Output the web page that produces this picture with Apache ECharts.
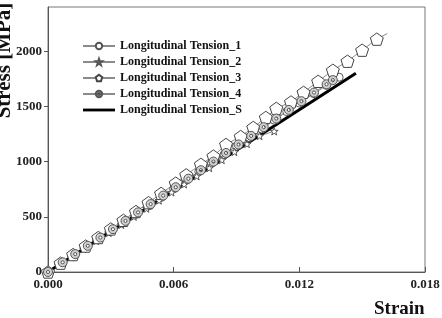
<!DOCTYPE html>
<html>
<head>
<meta charset="utf-8">
<script src="https://cdn.jsdelivr.net/npm/echarts@6/dist/echarts.min.js"></script>
<style>
  html, body { margin: 0; padding: 0; background: #fff; }
  #chart { width: 442px; height: 318px; }
</style>
</head>
<body>
<div id="chart"></div>
<script>
var seriesNames = ['Longitudinal Tension_1', 'Longitudinal Tension_2', 'Longitudinal Tension_3', 'Longitudinal Tension_4', 'Longitudinal Tension_S'];
var xTicks = [0, 0.006, 0.012, 0.018];
var yTicks = [0, 500, 1000, 1500, 2000];

var strain1 = [0, 0.0006, 0.0012, 0.0018, 0.0024, 0.0030, 0.0036, 0.0042, 0.0048, 0.0054, 0.0060, 0.0066, 0.0072, 0.0078, 0.0084, 0.0090, 0.0096, 0.0102, 0.0108, 0.0114, 0.0120, 0.0127, 0.0133, 0.0139];
var stress1 = [0, 75, 150, 224, 298, 372, 447, 522, 598, 675, 752, 830, 908, 985, 1062, 1140, 1218, 1296, 1375, 1452, 1530, 1615, 1690, 1764];

var strain2 = [0, 0.0005, 0.0011, 0.0017, 0.0023, 0.0029, 0.0035, 0.0041, 0.0047, 0.0053, 0.0059, 0.0065, 0.0071, 0.0077, 0.0083, 0.0089, 0.0095, 0.0101, 0.0108];
var stress2 = [0, 62, 135, 208, 282, 355, 428, 502, 575, 648, 722, 795, 868, 942, 1015, 1088, 1160, 1232, 1275];

var strain3 = [0, 0.0006, 0.0012, 0.0018, 0.0024, 0.0030, 0.0036, 0.0042, 0.0048, 0.0054, 0.0061, 0.0066, 0.0073, 0.0079, 0.0085, 0.0092, 0.0098, 0.0104, 0.0109, 0.0116, 0.0122, 0.0129, 0.0136, 0.0143, 0.0150, 0.0157, 0.0162];
var stress3 = [0, 80, 158, 235, 312, 390, 468, 548, 628, 712, 805, 880, 975, 1050, 1155, 1227, 1309, 1400, 1482, 1540, 1627, 1727, 1827, 1909, 2009, 2109, 2160];

var strain4 = [0, 0.0007, 0.0013, 0.0019, 0.0025, 0.0031, 0.0037, 0.0043, 0.0049, 0.0055, 0.0061, 0.0067, 0.0073, 0.0079, 0.0085, 0.0091, 0.0097, 0.0103, 0.0109, 0.0115, 0.0121, 0.0127, 0.0133, 0.0136];
var stress4 = [0, 88, 162, 237, 312, 388, 463, 540, 615, 692, 768, 845, 922, 1000, 1078, 1155, 1233, 1312, 1390, 1468, 1547, 1625, 1700, 1738];

var strainS = [0, 0.0050, 0.0100, 0.0147];
var stressS = [0, 612, 1224, 1800];

var pentagon = 'path://M0,-10L9.51,-3.09L5.88,8.09L-5.88,8.09L-9.51,-3.09Z';
var star = 'path://M0,-10L2.35,-3.24L9.51,-3.09L3.8,1.24L5.88,8.09L0,4L-5.88,8.09L-3.8,1.24L-9.51,-3.09L-2.35,-3.24Z';
var dotCircle = 'path://M10,0A10,10,0,1,1,-10,0A10,10,0,1,1,10,0ZM3.5,0A3.5,3.5,0,1,0,-3.5,0A3.5,3.5,0,1,0,3.5,0Z';

function pairs(xs, ys, lastNoSymbol) {
    return xs.map(function(x, i) {
        if (lastNoSymbol && i === xs.length - 1) {
            return { value: [x, ys[i]], symbol: 'none' };
        }
        return [x, ys[i]];
    });
}

var font = 'Liberation Serif';
var dom = document.getElementById('chart');
var myChart = echarts.init(dom);

var thin = { color: '#8a8a8a', width: 1 };

var option = {
    animation: false,
    grid: {
        left: 48, right: 17, top: 7, bottom: 46,
        outerBoundsMode: 'none',
        containLabel: false,
        show: true, borderColor: '#777', borderWidth: 1
    },
    legend: {
        orient: 'vertical',
        left: 82,
        top: 39,
        padding: 0,
        itemWidth: 32,
        itemHeight: 8,
        itemGap: 2,
        symbolKeepAspect: true,
        data: seriesNames.slice(0, 4).concat([{ name: seriesNames[4], icon: 'path://M0,0H34V3H0Z' }]),
        textStyle: { fontFamily: font, fontWeight: 'bold', fontSize: 12, color: '#111', lineHeight: 14 }
    },
    xAxis: {
        type: 'value',
        min: xTicks[0],
        max: xTicks[xTicks.length - 1],
        interval: 0.006,
        name: 'Strain',
        nameLocation: 'end',
        nameGap: -51,
        nameMoveOverlap: false,
        nameTextStyle: { fontFamily: font, fontWeight: 'bold', fontSize: 19, color: '#111', verticalAlign: 'top', padding: [28, 0, 0, 0] },
        axisLine: { lineStyle: { color: '#555', width: 1 } },
        axisTick: { inside: true, length: 5, lineStyle: { color: '#555' } },
        splitLine: { show: false },
        axisLabel: {
            margin: 6,
            fontFamily: font, fontWeight: 'bold', fontSize: 13, color: '#222',
            formatter: function(v) { return v.toFixed(3); }
        }
    },
    yAxis: {
        type: 'value',
        min: 0,
        max: 2400,
        interval: 500,
        name: 'Stress [MPa]',
        nameLocation: 'middle',
        nameGap: 33,
        nameRotate: 90,
        nameMoveOverlap: false,
        nameTextStyle: { fontFamily: font, fontWeight: 'bold', fontSize: 21, color: '#111', padding: [0, 0, 0, 158] },
        axisLine: { show: true, lineStyle: { color: '#555', width: 1 } },
        axisTick: { show: true, inside: false, length: 4, lineStyle: { color: '#555' } },
        splitLine: { show: false },
        axisLabel: {
            margin: 6,
            showMaxLabel: false,
            fontFamily: font, fontWeight: 'bold', fontSize: 13, color: '#222',
            formatter: function(v) { return yTicks.indexOf(v) >= 0 ? String(v) : ''; }
        }
    },
    series: [
        {
            name: seriesNames[0], type: 'line', data: pairs(strain1, stress1),
            symbol: 'circle', symbolSize: 8,
            lineStyle: thin,
            itemStyle: { color: '#fff', borderColor: '#555', borderWidth: 1 }
        },
        {
            name: seriesNames[1], type: 'line', data: pairs(strain2, stress2),
            symbol: star, symbolSize: 8, symbolKeepAspect: true,
            lineStyle: thin,
            itemStyle: { color: '#fff', borderColor: '#555', borderWidth: 1 }
        },
        {
            name: seriesNames[2], type: 'line', data: pairs(strain3, stress3, true),
            symbol: pentagon, symbolSize: 13, symbolKeepAspect: true,
            lineStyle: thin,
            itemStyle: { color: '#fff', borderColor: '#444', borderWidth: 1 }
        },
        {
            name: seriesNames[3], type: 'line', data: pairs(strain4, stress4),
            symbol: dotCircle, symbolSize: 9, symbolKeepAspect: true,
            lineStyle: thin,
            itemStyle: { color: '#d0d0d0', borderColor: '#555', borderWidth: 1 }
        },
        {
            name: seriesNames[4], type: 'line', data: pairs(strainS, stressS),
            symbol: 'none',
            lineStyle: { color: '#000', width: 3 },
            itemStyle: { color: '#000' }
        }
    ]
};
myChart.setOption(option, true);
</script>
</body>
</html>
